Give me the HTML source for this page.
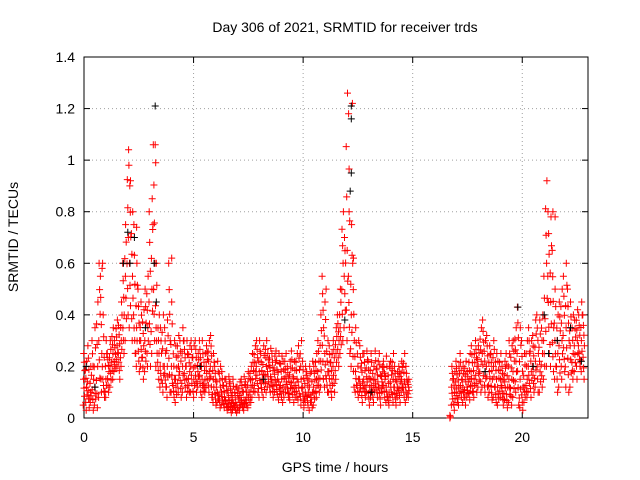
<!DOCTYPE html>
<html><head><meta charset="utf-8"><style>
body{margin:0;background:#fff}
svg{display:block;font-family:"Liberation Sans",sans-serif}
</style></head><body>
<svg id="chart" width="640" height="480">
<text x="345" y="32" font-size="14" text-anchor="middle">Day 306 of 2021, SRMTID for receiver trds</text>
<text x="335" y="472" font-size="14" text-anchor="middle">GPS time / hours</text>
<text x="18" y="237" font-size="14" text-anchor="middle" transform="rotate(-90 18 237)">SRMTID / TECUs</text>
<g id="grid"></g>
<g id="axes"></g>
<g id="marks"></g>
</svg>
<script>
const xTicks=[0,5,10,15,20];
const yTicks=[0,0.2,0.4,0.6,0.8,1,1.2,1.4];
const yTickLabels=["0","0.2","0.4","0.6","0.8","1","1.2","1.4"];
const segAStart=0, segBStart=16.8, stepH=0.1;
const redAHi=[0.25,0.22,0.28,0.2,0.3,0.35,0.45,0.6,0.58,0.4,0.3,0.25,0.3,0.35,0.3,0.38,0.36,0.45,0.6,0.75,1.04,0.9,0.8,0.75,0.6,0.5,0.45,0.42,0.5,0.55,0.8,0.85,1.06,0.6,0.4,0.35,0.4,0.35,0.38,0.6,0.45,0.3,0.28,0.32,0.3,0.35,0.3,0.3,0.28,0.3,0.28,0.3,0.25,0.3,0.3,0.25,0.28,0.3,0.32,0.25,0.2,0.22,0.2,0.18,0.15,0.15,0.16,0.14,0.15,0.12,0.12,0.14,0.15,0.16,0.14,0.18,0.2,0.25,0.28,0.3,0.3,0.25,0.28,0.3,0.25,0.27,0.25,0.24,0.26,0.25,0.24,0.22,0.25,0.2,0.22,0.26,0.22,0.25,0.28,0.3,0.22,0.2,0.18,0.2,0.22,0.2,0.25,0.3,0.4,0.55,0.45,0.3,0.28,0.25,0.3,0.35,0.4,0.5,0.8,0.7,1.26,1.18,0.75,0.6,0.35,0.3,0.28,0.25,0.25,0.26,0.22,0.25,0.2,0.26,0.22,0.25,0.2,0.22,0.24,0.2,0.22,0.25,0.2,0.18,0.2,0.22,0.25,0.2,0.15];
const redAMid=[0.15,0.12,0.14,0.1,0.15,0.12,0.2,0.3,0.25,0.15,0.15,0.18,0.2,0.25,0.22,0.28,0.25,0.3,0.4,0.55,0.7,0.6,0.55,0.4,0.35,0.3,0.3,0.28,0.3,0.35,0.45,0.5,0.6,0.35,0.25,0.2,0.2,0.2,0.2,0.3,0.2,0.15,0.15,0.2,0.18,0.2,0.2,0.15,0.18,0.2,0.15,0.2,0.18,0.2,0.15,0.15,0.2,0.18,0.2,0.15,0.12,0.1,0.12,0.1,0.08,0.07,0.08,0.06,0.07,0.06,0.05,0.06,0.08,0.07,0.08,0.1,0.12,0.15,0.18,0.2,0.18,0.15,0.17,0.2,0.18,0.16,0.15,0.17,0.15,0.14,0.15,0.12,0.16,0.13,0.14,0.16,0.12,0.15,0.14,0.15,0.12,0.1,0.1,0.12,0.1,0.12,0.15,0.18,0.22,0.35,0.25,0.18,0.18,0.15,0.2,0.25,0.3,0.35,0.6,0.55,0.65,0.55,0.4,0.3,0.18,0.15,0.15,0.14,0.15,0.16,0.12,0.15,0.12,0.15,0.14,0.12,0.14,0.15,0.12,0.1,0.14,0.15,0.12,0.12,0.14,0.15,0.14,0.12,0.12];
const redALo=[0.05,0.03,0.04,0.06,0.03,0.05,0.04,0.08,0.1,0.08,0.08,0.1,0.12,0.15,0.18,0.2,0.15,0.2,0.25,0.3,0.4,0.35,0.3,0.25,0.2,0.18,0.2,0.15,0.18,0.2,0.2,0.25,0.3,0.2,0.15,0.12,0.1,0.12,0.08,0.1,0.1,0.08,0.06,0.1,0.08,0.1,0.12,0.08,0.1,0.1,0.08,0.1,0.12,0.1,0.08,0.1,0.12,0.1,0.08,0.06,0.05,0.06,0.04,0.05,0.04,0.03,0.04,0.02,0.03,0.03,0.02,0.03,0.04,0.03,0.05,0.04,0.06,0.08,0.1,0.1,0.08,0.1,0.08,0.1,0.12,0.1,0.08,0.1,0.09,0.07,0.08,0.06,0.1,0.08,0.07,0.09,0.06,0.08,0.07,0.05,0.04,0.06,0.05,0.03,0.04,0.05,0.08,0.1,0.12,0.15,0.12,0.1,0.1,0.08,0.1,0.15,0.2,0.25,0.3,0.35,0.3,0.25,0.2,0.12,0.1,0.08,0.1,0.06,0.08,0.1,0.05,0.08,0.06,0.1,0.08,0.05,0.1,0.08,0.06,0.05,0.08,0.06,0.05,0.08,0.06,0.1,0.08,0.06,0.08];
const redBHi=[0.2,0.18,0.22,0.2,0.25,0.2,0.22,0.18,0.25,0.28,0.25,0.3,0.28,0.35,0.38,0.3,0.32,0.28,0.25,0.3,0.25,0.22,0.25,0.2,0.22,0.25,0.3,0.28,0.3,0.35,0.43,0.35,0.3,0.25,0.3,0.35,0.3,0.32,0.38,0.4,0.38,0.4,0.55,0.92,0.8,0.78,0.65,0.5,0.4,0.45,0.5,0.55,0.6,0.5,0.45,0.4,0.38,0.42,0.4,0.45,0.4];
const redBMid=[0.12,0.1,0.14,0.12,0.15,0.12,0.14,0.12,0.15,0.18,0.15,0.2,0.2,0.22,0.25,0.18,0.2,0.18,0.15,0.2,0.15,0.12,0.15,0.12,0.14,0.12,0.15,0.15,0.18,0.22,0.25,0.15,0.12,0.12,0.15,0.2,0.18,0.2,0.22,0.25,0.22,0.25,0.3,0.6,0.55,0.45,0.35,0.3,0.25,0.28,0.3,0.32,0.35,0.3,0.28,0.25,0.28,0.3,0.28,0.3,0.28];
const redBLo=[0.05,0.03,0.06,0.05,0.08,0.06,0.05,0.08,0.07,0.1,0.08,0.1,0.12,0.1,0.12,0.1,0.08,0.1,0.07,0.08,0.06,0.05,0.08,0.05,0.07,0.04,0.06,0.05,0.08,0.1,0.05,0.04,0.03,0.06,0.08,0.1,0.08,0.1,0.12,0.1,0.1,0.12,0.15,0.2,0.25,0.2,0.18,0.15,0.1,0.12,0.15,0.18,0.12,0.1,0.12,0.15,0.18,0.15,0.2,0.18,0.15];
const redExtraT=[3.25,3.27,2.05,2.12,12.25,12.1,4.0,21.4,21.5,3.15,2.4,0.75,0.85,11.05,12.3,16.7,16.7,16.72];
const redExtraV=[1.06,0.99,0.98,0.92,1.22,0.8,0.62,0.8,0.78,0.75,0.74,0.55,0.6,0.5,0.62,0.0,0.01,0.005];
const blackT=[3.25,12.2,12.2,12.2,12.15,2.0,2.1,3.2,2.3,19.8,21.0,11.9,1.8,0.1,3.3,2.8,22.7,21.6,0.5,5.3,8.2,13.1,18.3,20.5,21.2,22.2];
const blackV=[1.21,1.21,1.16,0.95,0.88,0.72,0.6,0.6,0.7,0.43,0.4,0.38,0.6,0.2,0.45,0.35,0.22,0.3,0.12,0.2,0.15,0.1,0.18,0.2,0.25,0.35];

const X0=84,X1=588,Y0=418,Y1=57,XMAX=23,YMAX=1.4;
const xs=v=>X0+(X1-X0)*v/XMAX;
const ys=v=>Y0-(Y0-Y1)*v/YMAX;
const NS="http://www.w3.org/2000/svg";
function mk(tag,attrs,parent){const e=document.createElementNS(NS,tag);for(const k in attrs)e.setAttribute(k,attrs[k]);parent.appendChild(e);return e;}
const grid=document.getElementById('grid'),axes=document.getElementById('axes'),marks=document.getElementById('marks');
yTicks.forEach((t,i)=>{
  const y=ys(t);
  if(i>0&&i<yTicks.length-1){const g=mk('line',{x1:X0,x2:X1,y1:y,y2:y,stroke:'#a0a0a0','stroke-dasharray':'1,3'},grid);
  
  }
  mk('line',{x1:X0,x2:X0+6,y1:y,y2:y,stroke:'#000'},axes);
  mk('line',{x1:X1,x2:X1-6,y1:y,y2:y,stroke:'#000'},axes);
  const l=mk('text',{x:X0-9,y:y+5,'font-size':14,'text-anchor':'end'},axes);
  l.textContent=yTickLabels[i];
  
  
});
xTicks.forEach(t=>{
  const x=xs(t);
  if(t>0){const g=mk('line',{x1:x,x2:x,y1:Y0,y2:Y1,stroke:'#a0a0a0','stroke-dasharray':'1,3'},grid);
  
  }
  mk('line',{x1:x,x2:x,y1:Y0,y2:Y0-6,stroke:'#000'},axes);
  mk('line',{x1:x,x2:x,y1:Y1,y2:Y1+6,stroke:'#000'},axes);
  const l=mk('text',{x:x,y:Y0+24,'font-size':14,'text-anchor':'middle'},axes);
  l.textContent=String(t);
  
  
});
mk('rect',{x:X0,y:Y1,width:X1-X0,height:Y0-Y1,fill:'none',stroke:'#000'},axes);
let redD='',blackD='';
function plus(t,v){const x=xs(t),y=ys(v);return `M${(x-3.5).toFixed(1)} ${y.toFixed(1)}h7M${x.toFixed(1)} ${(y-3.5).toFixed(1)}v7`;}
const fracs=[0,0.17,0.33,0.5,0.67,0.83,1];
[[segAStart,redAHi,redAMid,redALo],[segBStart,redBHi,redBMid,redBLo]].forEach(([st,hi,mid,lo])=>{
  hi.forEach((h,i)=>{
    const t=st+i*stepH;
    const m=mid[i],l=lo[i];
    fracs.forEach((f,k)=>{
      const off=((i*3+k*5)%7-3)*0.012;
      const v=f<=0.5? l+(m-l)*f*2 : m+(h-m)*(f-0.5)*2;
      redD+=plus(t+off,v);
    });
  });
});
redExtraT.forEach((t,i)=>{redD+=plus(t,redExtraV[i]);});
blackT.forEach((t,i)=>{blackD+=plus(t,blackV[i]);});
const rp=mk('path',{d:redD,stroke:'#ff0000','stroke-width':1,fill:'none'},marks);


const bp=mk('path',{d:blackD,stroke:'#000','stroke-width':1,fill:'none'},marks);


</script>
</body></html>
